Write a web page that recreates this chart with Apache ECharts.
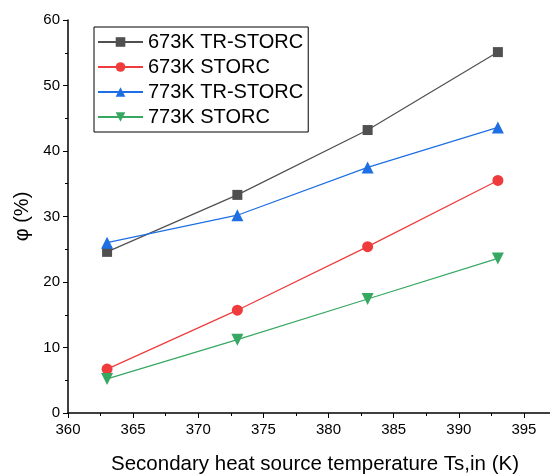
<!DOCTYPE html>
<html><head><meta charset="utf-8">
<script src="https://cdn.jsdelivr.net/npm/echarts@6/dist/echarts.min.js"></script>
<style>html,body{margin:0;padding:0;background:#fff}#c{width:550px;height:475px}</style>
</head><body><div id="c"></div>
<script>
const temps = [363, 373, 383, 393];
const seriesNames = ['673K TR-STORC', '673K STORC', '773K TR-STORC', '773K STORC'];
const tr673 = [24.6, 33.3, 43.2, 55.1];
const storc673 = [6.7, 15.7, 25.4, 35.5];
const tr773 = [26.0, 30.2, 37.5, 43.6];
const storc773 = [5.2, 11.2, 17.4, 23.6];
const xTicks = [360, 365, 370, 375, 380, 385, 390, 395];
const yTicks = [0, 10, 20, 30, 40, 50, 60];

const colors = ['#505050', '#ef3b3b', '#1e6fe3', '#37a862'];
const symbols = ['rect', 'circle', 'triangle', 'path://M0,0 L10,0 L5,9 Z'];
const sizes = [10, 11, 12, 12];
const vals = [tr673, storc673, tr773, storc773];
const font = 'Liberation Sans, Arial, sans-serif';

const chart = echarts.init(document.getElementById('c'));
chart.setOption({
  animation: false,
  grid: { left: 68, right: 0, top: 20, bottom: 62, outerBoundsMode: 'none', containLabel: false },
  legend: {
    left: 94, top: 27, orient: 'vertical',
    padding: [5, 5, 5, 3],
    borderColor: '#000', borderWidth: 1,
    itemWidth: 45, itemHeight: 12, itemGap: 5,
    textStyle: { fontFamily: font, fontSize: 20, color: '#000' },
    data: seriesNames
  },
  xAxis: {
    type: 'value', min: 360, max: 397, interval: 5,
    name: 'Secondary heat source temperature Ts,in (K)',
    nameLocation: 'middle', nameGap: 41,
    nameTextStyle: { fontFamily: font, fontSize: 20.5, color: '#000', padding: [0, 0, 0, 12] },
    axisLine: { lineStyle: { color: '#000', width: 1.5 } },
    axisTick: { show: true, inside: false, length: 5, lineStyle: { color: '#000' } },
    minorTick: { show: true, splitNumber: 2, length: 3, lineStyle: { color: '#000' } },
    axisLabel: { fontFamily: font, fontSize: 15, color: '#000', margin: 9,
      showMaxLabel: false,
      formatter: v => xTicks.includes(v) ? String(v) : '' },
    splitLine: { show: false }
  },
  yAxis: {
    type: 'value', min: 0, max: 60, interval: 10,
    name: 'φ (%)',
    nameLocation: 'middle', nameGap: 33,
    nameTextStyle: { fontFamily: font, fontSize: 20, color: '#000' },
    axisLine: { show: true, lineStyle: { color: '#000', width: 1.5 } },
    axisTick: { show: true, inside: false, length: 5, lineStyle: { color: '#000' } },
    minorTick: { show: true, splitNumber: 2, length: 3, lineStyle: { color: '#000' } },
    axisLabel: { fontFamily: font, fontSize: 15, color: '#000', margin: 8,
      formatter: v => yTicks.includes(v) ? String(v) : '' },
    splitLine: { show: false }
  },
  series: seriesNames.map((n, i) => ({
    name: n, type: 'line',
    data: temps.map((t, j) => [t, vals[i][j]]),
    symbol: symbols[i], symbolSize: sizes[i],
    itemStyle: { color: colors[i] },
    lineStyle: { color: colors[i], width: 1.2 }
  }))
});
</script></body></html>
